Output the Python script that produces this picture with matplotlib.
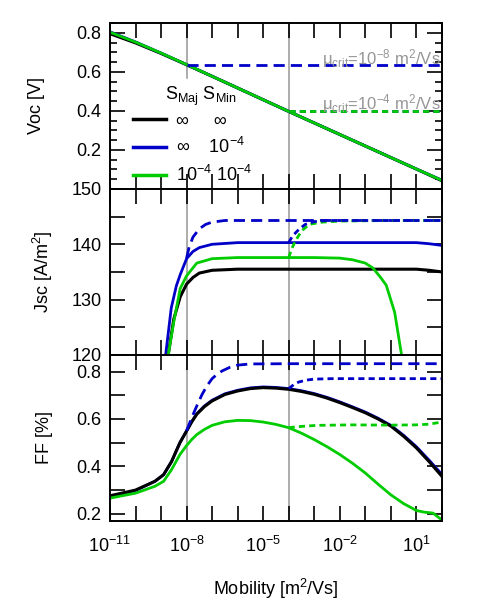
import numpy as np
import matplotlib
matplotlib.use("Agg")
import matplotlib.pyplot as plt
from matplotlib.ticker import FixedLocator, MultipleLocator, FuncFormatter

plt.rcParams['font.family'] = ['Liberation Sans', 'DejaVu Sans']
plt.rcParams['mathtext.fontset'] = 'custom'
plt.rcParams['mathtext.rm'] = 'Liberation Sans'
plt.rcParams['mathtext.it'] = 'Liberation Sans:italic'
plt.rcParams['mathtext.default'] = 'regular'
plt.rcParams['font.size'] = 13

BLACK = '#000000'
BLUE = '#0000c8'
GREEN = '#00cc00'
GREY = '#969696'

# ---- Voc panel (log10 mobility, value) ----
voc_mu = [-11, -10, -9, -8, -7, -6, -5, -4, -3, -2, -1, 0, 1, 2]
voc_black = [0.795, 0.748, 0.694, 0.636, 0.577, 0.517, 0.457, 0.397, 0.338, 0.279, 0.220, 0.161, 0.102, 0.042]
voc_blue = [0.805, 0.753, 0.696, 0.637, 0.577, 0.517, 0.457, 0.397, 0.338, 0.279, 0.220, 0.161, 0.102, 0.045]
voc_green = [0.803, 0.752, 0.696, 0.637, 0.577, 0.517, 0.457, 0.397, 0.338, 0.279, 0.220, 0.161, 0.102, 0.044]
voc_blue8_mu = [-8, 2]
voc_blue8 = [0.635, 0.635]
voc_crit4_mu = [-4, 2]
voc_blue4 = [0.397, 0.397]
voc_green4 = [0.397, 0.397]

# ---- Jsc panel ----
jsc_black_mu = [-8.72, -8.5, -8.25, -8, -7.75, -7.5, -7, -6, -5, -4, -3, -2, -1, 0, 1, 1.5, 2]
jsc_black = [120, 126.5, 130.5, 132.8, 134.0, 134.8, 135.3, 135.5, 135.5, 135.5, 135.5, 135.5, 135.5,
             135.5, 135.5, 135.3, 135.0]
jsc_blue_mu = [-8.82, -8.6, -8.4, -8.25, -8, -7.75, -7.5, -7, -6, -5, -4, -3, -2, -1, 0, 1, 1.5, 2]
jsc_blue = [120, 128.5, 132.5, 134.5, 137.4, 138.7, 139.4, 140.0, 140.3, 140.3, 140.3, 140.3, 140.3,
            140.3, 140.3, 140.3, 140.1, 139.8]
jsc_green_mu = [-8.72, -8.5, -8.25, -8, -7.6, -7, -6, -5, -4, -3, -2, -1.5, -1, -0.7, -0.4, -0.18,
                0.15, 0.42, 0.5]
jsc_green = [120, 126, 132, 134.3, 136.6, 137.4, 137.6, 137.6, 137.6, 137.6, 137.5, 137.2, 136.6,
             135.7, 134.0, 132.6, 127.7, 120, 118]
jsc_blue8_mu = [-8, -7.9, -7.75, -7.5, -7.25, -7, -6.5, -5, -3, -1, 2]
jsc_blue8 = [137.5, 139.5, 141.3, 142.8, 143.6, 144.0, 144.3, 144.3, 144.3, 144.3, 144.3]
jsc_blue4_mu = [-4, -3.85, -3.6, -3.35, -3.0, -2.5, -1, 2]
jsc_blue4 = [140.3, 141.5, 142.7, 143.6, 144.1, 144.3, 144.3, 144.3]
jsc_green4_mu = [-4, -3.9, -3.75, -3.5, -3.2, -2.7, -2, 0, 2]
jsc_green4 = [137.6, 139.0, 140.5, 142.4, 143.6, 144.0, 144.2, 144.3, 144.3]

# ---- FF panel ----
ff_mu = [-11, -10, -9.24, -8.9, -8.59, -8.26, -8, -7.8, -7.6, -7.3, -7, -6.5, -6, -5.5, -5, -4.5,
         -4, -3.5, -3, -2.5, -2, -1.5, -1, -0.5, 0, 0.5, 1, 1.5, 2]
ff_black = [0.276, 0.300, 0.337, 0.365, 0.420, 0.500, 0.549, 0.587, 0.620, 0.652, 0.676, 0.703,
            0.718, 0.728, 0.732, 0.730, 0.725, 0.716, 0.704, 0.688, 0.669, 0.648, 0.626, 0.600,
            0.570, 0.527, 0.478, 0.420, 0.358]
ff_blue = [0.272, 0.298, 0.337, 0.365, 0.420, 0.500, 0.550, 0.589, 0.622, 0.655, 0.679, 0.706,
           0.721, 0.731, 0.735, 0.733, 0.728, 0.719, 0.707, 0.691, 0.672, 0.651, 0.629, 0.603,
           0.573, 0.531, 0.483, 0.426, 0.366]
ff_green_mu = [-11, -10, -9.24, -8.9, -8.59, -8.26, -8, -7.8, -7.6, -7.3, -7, -6.5, -6, -5.5, -5,
               -4.5, -4, -3.5, -3, -2.5, -2, -1.5, -1, -0.5, 0, 0.5, 1, 1.3, 1.65, 2]
ff_green = [0.266, 0.287, 0.316, 0.337, 0.386, 0.450, 0.488, 0.513, 0.534, 0.556, 0.573, 0.588,
            0.594, 0.593, 0.587, 0.577, 0.563, 0.540, 0.513, 0.483, 0.450, 0.413, 0.372, 0.325,
            0.280, 0.243, 0.214, 0.207, 0.203, 0.174]
ff_blue8_mu = [-8, -7.8, -7.6, -7.4, -7.2, -7, -6.8, -6.6, -6.3, -6, -5.5, -4, 2]
ff_blue8 = [0.550, 0.605, 0.655, 0.702, 0.740, 0.770, 0.789, 0.803, 0.818, 0.827, 0.832, 0.833, 0.833]
ff_blue4_mu = [-4, -3.8, -3.6, -3.3, -3.0, -2.3, 2]
ff_blue4 = [0.728, 0.745, 0.756, 0.764, 0.768, 0.770, 0.770]
ff_green4_mu = [-4, -3.7, -2.9, -1.5, 0, 1, 1.5, 2]
ff_green4 = [0.563, 0.567, 0.573, 0.575, 0.574, 0.575, 0.578, 0.587]

crit_mu = [-8, -4]
legend_labels = [u"\u221e     \u221e", u"\u221e    10$^{-4}$", u"10$^{-4}$ 10$^{-4}$"]
legend_title = 'S$_{Maj}$ S$_{Min}$'

LONG = (4.0, 2.2)
SHORT = (2.2, 1.5)


def mu(vals):
    return 10.0 ** np.asarray(vals, dtype=float)


fig = plt.figure(figsize=(4.91, 6.05), dpi=100)
gs = fig.add_gridspec(3, 1, left=0.224, right=0.900, top=0.962, bottom=0.139, hspace=0)
ax1 = fig.add_subplot(gs[0])
ax2 = fig.add_subplot(gs[1], sharex=ax1)
ax3 = fig.add_subplot(gs[2], sharex=ax1)

# grey markers for critical mobilities
ax1.axvline(mu(crit_mu[0]), ymin=0.67, ymax=1, color=GREY, lw=1.1, zorder=1)
ax1.axvline(mu(crit_mu[1]), color=GREY, lw=1.1, zorder=1)
for ax in (ax2, ax3):
    for c in crit_mu:
        ax.axvline(mu(c), color=GREY, lw=1.1, zorder=1)

# Voc
h_black, = ax1.plot(mu(voc_mu), voc_black, color=BLACK, lw=2.2)
h_blue, = ax1.plot(mu(voc_mu), voc_blue, color=BLUE, lw=2)
h_green, = ax1.plot(mu(voc_mu), voc_green, color=GREEN, lw=2)
ax1.plot(mu(voc_blue8_mu), voc_blue8, color=BLUE, lw=2, dashes=LONG)
ax1.plot(mu(voc_crit4_mu), voc_blue4, color=BLUE, lw=2, dashes=SHORT)
ax1.plot(mu(voc_crit4_mu), voc_green4, color=GREEN, lw=2, dashes=SHORT)

# Jsc
ax2.plot(mu(jsc_black_mu), jsc_black, color=BLACK, lw=2.2)
ax2.plot(mu(jsc_blue_mu), jsc_blue, color=BLUE, lw=2)
ax2.plot(mu(jsc_green_mu), jsc_green, color=GREEN, lw=2)
ax2.plot(mu(jsc_blue8_mu), jsc_blue8, color=BLUE, lw=2, dashes=LONG)
ax2.plot(mu(jsc_green4_mu), jsc_green4, color=GREEN, lw=2, dashes=SHORT)
ax2.plot(mu(jsc_blue4_mu), jsc_blue4, color=BLUE, lw=2, dashes=SHORT)

# FF
ax3.plot(mu(ff_mu), ff_blue, color=BLUE, lw=2)
ax3.plot(mu(ff_mu), ff_black, color=BLACK, lw=2.2)
ax3.plot(mu(ff_green_mu), ff_green, color=GREEN, lw=2)
ax3.plot(mu(ff_blue8_mu), ff_blue8, color=BLUE, lw=2, dashes=LONG)
ax3.plot(mu(ff_blue4_mu), ff_blue4, color=BLUE, lw=2, dashes=SHORT)
ax3.plot(mu(ff_green4_mu), ff_green4, color=GREEN, lw=2, dashes=SHORT)

# axes setup
ax1.set_xscale('log')
ax1.set_xlim(1e-11, 1e2)
decades = mu(np.arange(-11, 3))
ax3.xaxis.set_major_locator(FixedLocator(decades))
ax3.xaxis.set_minor_locator(FixedLocator([]))


def xfmt(v, pos):
    e = int(round(np.log10(v)))
    return r'$10^{%d}$' % e if (e + 11) % 3 == 0 else ''


ax3.xaxis.set_major_formatter(FuncFormatter(xfmt))

ax1.set_ylim(0, 0.85)
ax1.yaxis.set_major_locator(FixedLocator([0.2, 0.4, 0.6, 0.8]))
ax1.yaxis.set_minor_locator(MultipleLocator(0.05))
ax2.set_ylim(120, 150)
ax2.yaxis.set_major_locator(FixedLocator([120, 130, 140, 150]))
ax2.yaxis.set_minor_locator(MultipleLocator(5))
ax3.set_ylim(0.17, 0.87)
ax3.yaxis.set_major_locator(FixedLocator([0.2, 0.4, 0.6, 0.8]))
ax3.yaxis.set_minor_locator(MultipleLocator(0.1))

for ax in (ax1, ax2, ax3):
    ax.tick_params(which='both', direction='in', top=True, right=True, labelsize=13, width=1.2)
    ax.tick_params(which='major', length=10.5, pad=6)
    ax.tick_params(which='minor', length=5)
    for s in ax.spines.values():
        s.set_linewidth(1.4)
for ax in (ax2, ax3):
    ax.tick_params(which='minor', axis='y', length=10.5)
ax3.tick_params(axis='x', which='major', pad=11)
ax1.tick_params(labelbottom=False)
ax2.tick_params(labelbottom=False)

ax1.set_ylabel('Voc [V]', fontsize=13)
ax2.set_ylabel('Jsc [A/m$^2$]', fontsize=13)
ax3.set_ylabel('FF [%]', fontsize=13)
ax1.yaxis.set_label_coords(-0.196, 0.5)
ax2.yaxis.set_label_coords(-0.166, 0.5)
ax3.yaxis.set_label_coords(-0.172, 0.5)
ax3.set_xlabel('Mobility [m$^2$/Vs]', fontsize=13, labelpad=15)

# annotations
ax1.text(0.995, 0.64, u"\u03bc$_{crit}$=10$^{-8}$ m$^2$/Vs", transform=ax1.get_yaxis_transform(),
         ha='right', va='baseline', color=GREY, fontsize=12)
ax1.text(0.995, 0.405, u"\u03bc$_{crit}$=10$^{-4}$ m$^2$/Vs", transform=ax1.get_yaxis_transform(),
         ha='right', va='baseline', color=GREY, fontsize=12)

leg = ax1.legend([h_black, h_blue, h_green], legend_labels,
                 loc='upper left', bbox_to_anchor=(0.069, 0.46), frameon=False,
                 handlelength=1.85, handletextpad=0.55, labelspacing=0.42, borderpad=0,
                 borderaxespad=0, fontsize=13)
for line in leg.get_lines():
    line.set_linewidth(2.5)
ax1.text(0.166, 0.538, legend_title, transform=ax1.transAxes, ha='left', va='baseline', fontsize=13)

fig.savefig('out.png', dpi=100)
